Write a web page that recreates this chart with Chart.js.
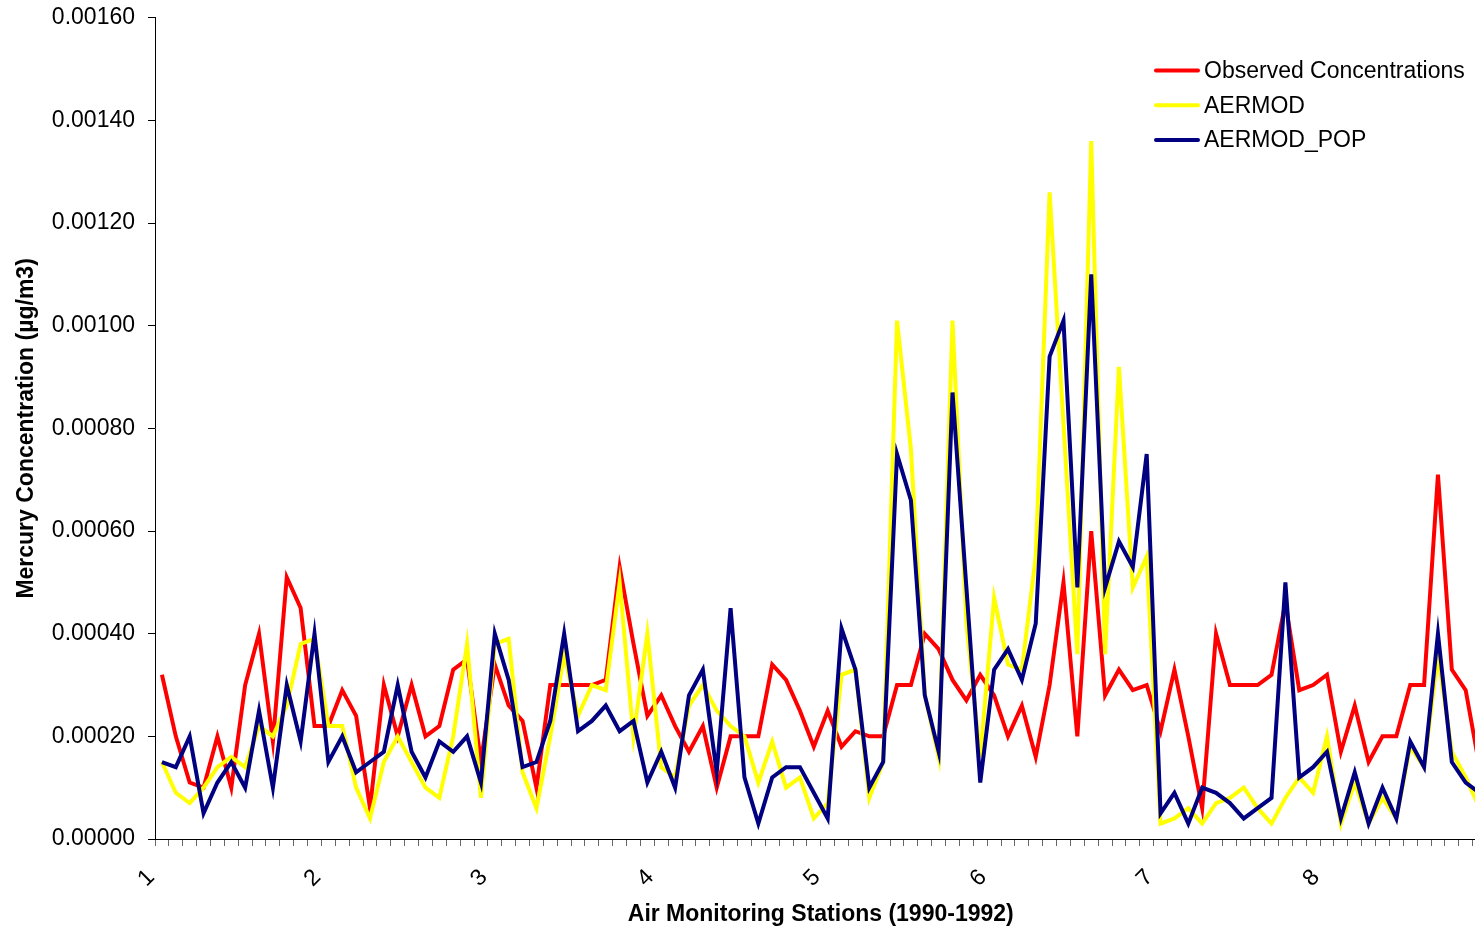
<!DOCTYPE html>
<html>
<head>
<meta charset="utf-8">
<script src="https://cdn.jsdelivr.net/npm/chart.js@4.4.1/dist/chart.umd.min.js"></script>
<style>
  html, body { margin: 0; padding: 0; background: #fff; overflow: hidden; }
  #wrap { width: 1475px; height: 930px; overflow: hidden; position: relative; }
  #inner { width: 1490px; height: 930px; position: absolute; left: 0; top: 0; }
  #chart { width: 1490px; height: 930px; }
</style>
</head>
<body>
<div id="wrap"><div id="inner"><canvas id="chart" width="1490" height="930"></canvas></div></div>
<script>
// stations, one label every 12 monthly values
const stations = ['1', '2', '3', '4', '5', '6', '7', '8'];
const perStation = 12;

const observed = [
  0.00032, 0.00020, 0.00011, 0.00010, 0.00020, 0.00010, 0.00030, 0.00040, 0.00019, 0.00051, 0.00045, 0.00022,
  0.00022, 0.00029, 0.00024, 0.00006, 0.00030, 0.00020, 0.00030, 0.00020, 0.00022, 0.00033, 0.00035, 0.00015,
  0.00034, 0.00026, 0.00023, 0.00010, 0.00030, 0.00030, 0.00030, 0.00030, 0.00031, 0.00053, 0.00038, 0.00024,
  0.00028, 0.00022, 0.00017, 0.00022, 0.00010, 0.00020, 0.00020, 0.00020, 0.00034, 0.00031, 0.00025, 0.00018,
  0.00025, 0.00018, 0.00021, 0.00020, 0.00020, 0.00030, 0.00030, 0.00040, 0.00037, 0.00031, 0.00027, 0.00032,
  0.00028, 0.00020, 0.00026, 0.00016, 0.00030, 0.00050, 0.00020, 0.00060, 0.00028, 0.00033, 0.00029, 0.00030,
  0.00021, 0.00033, 0.00020, 0.00006, 0.00040, 0.00030, 0.00030, 0.00030, 0.00032, 0.00046, 0.00029, 0.00030,
  0.00032, 0.00017, 0.00026, 0.00015, 0.00020, 0.00020, 0.00030, 0.00030, 0.00071, 0.00033, 0.00029, 0.00014
];

const aermod = [
  0.00015, 0.00009, 0.00007, 0.00010, 0.00014, 0.00016, 0.00014, 0.00022, 0.00020, 0.00026, 0.00038, 0.00039,
  0.00022, 0.00022, 0.00010, 0.00004, 0.00015, 0.00020, 0.00015, 0.00010, 0.00008, 0.00020, 0.00038, 0.00008,
  0.00038, 0.00039, 0.00013, 0.00006, 0.00020, 0.00036, 0.00024, 0.00030, 0.00029, 0.00050, 0.00020, 0.00040,
  0.00014, 0.00012, 0.00026, 0.00030, 0.00025, 0.00022, 0.00020, 0.00011, 0.00019, 0.00010, 0.00012, 0.00004,
  0.00007, 0.00032, 0.00033, 0.00008, 0.00015, 0.00101, 0.00076, 0.00028, 0.00016, 0.00101, 0.00042, 0.00016,
  0.00047, 0.00034, 0.00033, 0.00055, 0.00126, 0.00081, 0.00036, 0.00136, 0.00036, 0.00092, 0.00049, 0.00055,
  0.00003, 0.00004, 0.00006, 0.00003, 0.00007, 0.00008, 0.00010, 0.00006, 0.00003, 0.00008, 0.00012, 0.00009,
  0.00020, 0.00003, 0.00011, 0.00003, 0.00008, 0.00004, 0.00018, 0.00014, 0.00036, 0.00017, 0.00012, 0.00006
];

const aermodPop = [
  0.00015, 0.00014, 0.00020, 0.00005, 0.00011, 0.00015, 0.00010, 0.00025, 0.00010, 0.00030, 0.00019, 0.00040,
  0.00015, 0.00020, 0.00013, 0.00015, 0.00017, 0.00030, 0.00017, 0.00012, 0.00019, 0.00017, 0.00020, 0.00011,
  0.00040, 0.00031, 0.00014, 0.00015, 0.00023, 0.00040, 0.00021, 0.00023, 0.00026, 0.00021, 0.00023, 0.00011,
  0.00017, 0.00010, 0.00028, 0.00033, 0.00013, 0.00045, 0.00012, 0.00003, 0.00012, 0.00014, 0.00014, 0.00009,
  0.00004, 0.00041, 0.00033, 0.00010, 0.00015, 0.00075, 0.00066, 0.00028, 0.00017, 0.00087, 0.00049, 0.00011,
  0.00033, 0.00037, 0.00031, 0.00042, 0.00094, 0.00101, 0.00049, 0.00110, 0.00049, 0.00058, 0.00053, 0.00075,
  0.00005, 0.00009, 0.00003, 0.00010, 0.00009, 0.00007, 0.00004, 0.00006, 0.00008, 0.00050, 0.00012, 0.00014,
  0.00017, 0.00004, 0.00013, 0.00003, 0.00010, 0.00004, 0.00019, 0.00014, 0.00040, 0.00015, 0.00011, 0.00009
];

const yMin = 0;
const yMax = 0.0016;
const yStep = 0.0002;

// category labels: station number on the first month, blank for the rest
const labels = [];
stations.forEach(s => {
  for (let m = 0; m < perStation; m++) labels.push(m === 0 ? s : '');
});

const FONT = '"Liberation Sans", Arial, Helvetica, sans-serif';
Chart.defaults.font.family = FONT;
Chart.defaults.font.size = 23;
Chart.defaults.color = '#000';

// legend drawn inside the plot, top right, like the original
const insideLegend = {
  id: 'insideLegend',
  afterDraw(chart) {
    const ctx = chart.ctx;
    ctx.save();
    ctx.font = '23px ' + FONT;
    ctx.textBaseline = 'middle';
    ctx.textAlign = 'left';
    chart.data.datasets.forEach((ds, i) => {
      const y = 70.5 + i * 34.7;
      ctx.strokeStyle = ds.borderColor;
      ctx.lineWidth = 4;
      ctx.lineCap = 'round';
      ctx.beginPath();
      ctx.moveTo(1156, y);
      ctx.lineTo(1198, y);
      ctx.stroke();
      ctx.fillStyle = '#000';
      ctx.fillText(ds.label, 1204, y + 1);
    });
    ctx.restore();
  }
};

new Chart(document.getElementById('chart'), {
  type: 'line',
  data: {
    labels: labels,
    datasets: [
      { label: 'Observed Concentrations', data: observed, borderColor: '#FF0000', order: 3 },
      { label: 'AERMOD', data: aermod, borderColor: '#FFFF00', order: 2 },
      { label: 'AERMOD_POP', data: aermodPop, borderColor: '#000080', order: 1 }
    ]
  },
  options: {
    responsive: false,
    animation: false,
    devicePixelRatio: 1,
    layout: { padding: { top: 0, right: 3.5, left: 0, bottom: 0 } },
    elements: {
      line: { borderWidth: 4, tension: 0, fill: false },
      point: { radius: 0, hoverRadius: 0 }
    },
    plugins: {
      legend: { display: false },
      tooltip: { enabled: false }
    },
    scales: {
      x: {
        offset: true,
        grid: { offset: true, drawOnChartArea: false, tickLength: 7, color: '#666', lineWidth: 1 },
        border: { color: '#000', width: 1 },
        ticks: { autoSkip: false, maxRotation: 45, minRotation: 45, padding: 18, labelOffset: -11, color: '#000' },
        title: {
          display: true,
          text: 'Air Monitoring Stations (1990-1992)',
          font: { size: 23, weight: 'bold' },
          padding: { top: 0, bottom: 2 }
        },
        afterFit(scale) {
          scale.height = 91;
          scale.paddingLeft = 0;
          scale.paddingRight = 0;
        }
      },
      y: {
        min: yMin,
        max: yMax,
        ticks: {
          stepSize: yStep,
          padding: 13,
          color: '#000',
          font: { size: 23, lineHeight: 0.42 },
          callback: v => Number(v).toFixed(5)
        },
        grid: { drawOnChartArea: false, tickLength: 7, color: '#000', lineWidth: 1 },
        border: { color: '#000', width: 1 },
        title: {
          display: true,
          text: 'Mercury Concentration (µg/m3)',
          font: { size: 23, weight: 'bold' },
          padding: { top: 13, bottom: 0 }
        },
        afterFit(scale) { scale.width = 155; }
      }
    }
  },
  plugins: [insideLegend]
});
</script>
</body>
</html>
